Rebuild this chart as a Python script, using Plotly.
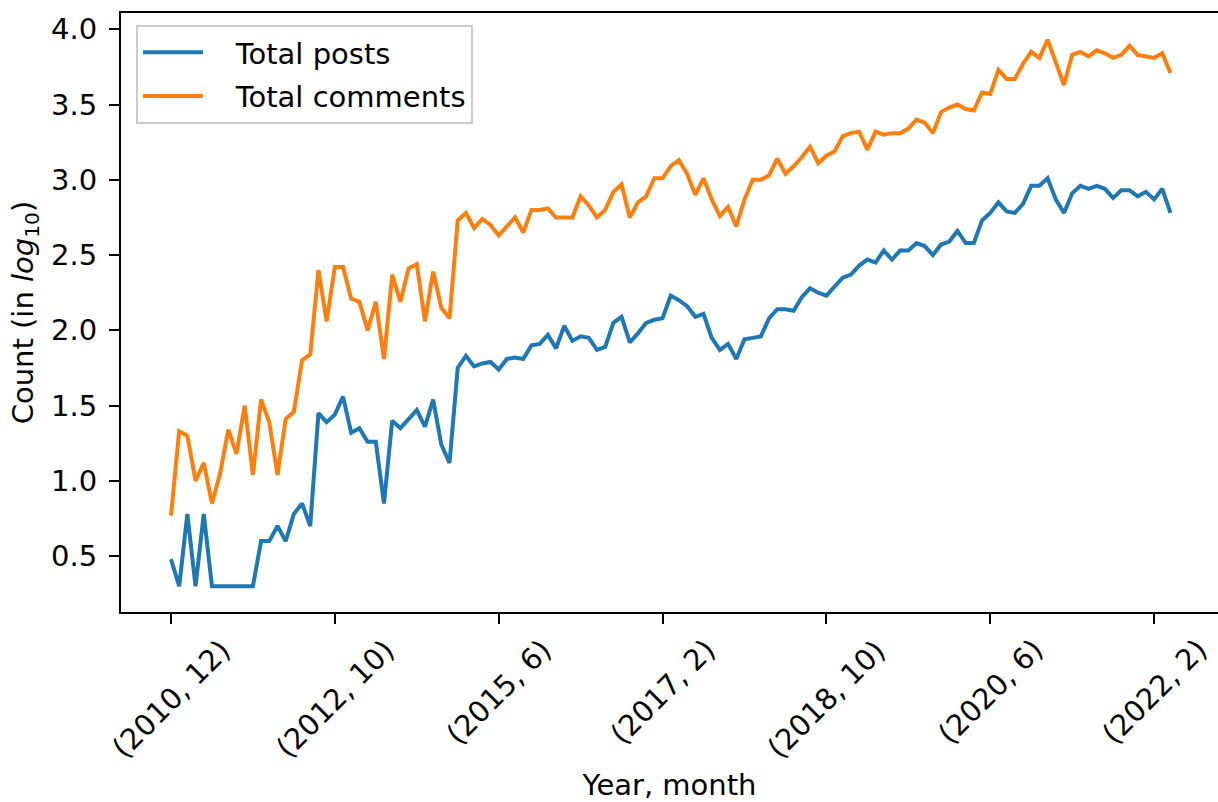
import plotly.graph_objects as go

# ---- data -------------------------------------------------------------
FIRST_YEAR, FIRST_MONTH = 2010, 12
LAST_YEAR, LAST_MONTH = 2022, 4
MISSING_MONTHS = [(2011, 5), (2011, 10),
                  (2013, 9), (2013, 10), (2013, 11), (2013, 12),
                  (2014, 1), (2014, 2), (2014, 3), (2014, 4),
                  (2014, 5), (2014, 6), (2014, 7), (2014, 8)]

months = []
y, m = FIRST_YEAR, FIRST_MONTH
while (y, m) <= (LAST_YEAR, LAST_MONTH):
    if (y, m) not in MISSING_MONTHS:
        months.append(f"({y}, {m})")
    m += 1
    if m > 12:
        y, m = y + 1, 1

total_posts = [
    0.48, 0.30, 0.78, 0.30, 0.78, 0.30, 0.30, 0.30, 0.30, 0.30,
    0.30, 0.60, 0.60, 0.70, 0.60, 0.78, 0.85, 0.70, 1.45, 1.39,
    1.44, 1.56, 1.32, 1.35, 1.26, 1.26, 0.85, 1.40, 1.35, 1.41,
    1.47, 1.36, 1.54, 1.24, 1.12, 1.75, 1.83, 1.76, 1.78, 1.79,
    1.74, 1.81, 1.82, 1.81, 1.90, 1.91, 1.97, 1.88, 2.03, 1.93,
    1.96, 1.95, 1.87, 1.89, 2.05, 2.09, 1.92, 1.98, 2.05, 2.07,
    2.08, 2.23, 2.20, 2.16, 2.09, 2.11, 1.95, 1.87, 1.91, 1.81,
    1.94, 1.95, 1.96, 2.08, 2.14, 2.14, 2.13, 2.22, 2.28, 2.25,
    2.23, 2.29, 2.35, 2.37, 2.43, 2.47, 2.45, 2.53, 2.47, 2.53,
    2.53, 2.58, 2.56, 2.50, 2.57, 2.59, 2.66, 2.58, 2.58, 2.73,
    2.78, 2.85, 2.79, 2.78, 2.84, 2.96, 2.96, 3.01, 2.87, 2.78,
    2.91, 2.96, 2.94, 2.96, 2.94, 2.88, 2.93, 2.93, 2.89, 2.92,
    2.87, 2.94, 2.78,
]

total_comments = [
    0.77, 1.33, 1.30, 1.00, 1.12, 0.85, 1.05, 1.34, 1.18, 1.50,
    1.04, 1.54, 1.39, 1.04, 1.41, 1.46, 1.80, 1.84, 2.40, 2.06,
    2.42, 2.42, 2.21, 2.19, 2.00, 2.19, 1.81, 2.37, 2.19, 2.41,
    2.44, 2.06, 2.39, 2.15, 2.08, 2.73, 2.78, 2.68, 2.74, 2.70,
    2.63, 2.69, 2.75, 2.65, 2.80, 2.80, 2.81, 2.75, 2.75, 2.75,
    2.89, 2.83, 2.75, 2.80, 2.92, 2.97, 2.75, 2.85, 2.89, 3.01,
    3.01, 3.09, 3.13, 3.04, 2.90, 3.01, 2.87, 2.76, 2.82, 2.69,
    2.87, 3.00, 3.00, 3.03, 3.14, 3.04, 3.09, 3.15, 3.22, 3.11,
    3.16, 3.19, 3.29, 3.31, 3.32, 3.20, 3.32, 3.30, 3.31, 3.31,
    3.34, 3.40, 3.38, 3.31, 3.45, 3.48, 3.50, 3.47, 3.46, 3.58,
    3.57, 3.73, 3.67, 3.67, 3.77, 3.85, 3.81, 3.93, 3.78, 3.63,
    3.83, 3.85, 3.82, 3.86, 3.84, 3.81, 3.83, 3.89, 3.83, 3.82,
    3.81, 3.84, 3.71,
]

series_names = ["Total posts", "Total comments"]
x_tick_labels = ["(2010, 12)", "(2012, 10)", "(2015, 6)", "(2017, 2)",
                 "(2018, 10)", "(2020, 6)", "(2022, 2)"]
y_tick_values = [0.5, 1.0, 1.5, 2.0, 2.5, 3.0, 3.5, 4.0]

# ---- figure -----------------------------------------------------------
FONT = "DejaVu Sans"
FS = 29
PAD = "\u00a0\u00a0\u00a0"

fig = go.Figure()
fig.add_trace(go.Scatter(x=months, y=total_posts, mode="lines",
                         name=PAD + series_names[0], legendgroup="a",
                         line=dict(color="#1f77b4", width=4)))
fig.add_trace(go.Scatter(x=months, y=total_comments, mode="lines",
                         name=PAD + series_names[1], legendgroup="b",
                         line=dict(color="#ff7f0e", width=4)))

for lab in x_tick_labels:
    fig.add_annotation(x=lab, y=0, xref="x", yref="paper",
                       text=lab, textangle=-45, showarrow=False,
                       xanchor="center", yanchor="top", yshift=-18,
                       font=dict(family=FONT, size=FS, color="black"))

fig.update_layout(
    width=1218, height=802,
    margin=dict(l=121, r=0, t=13, b=190),
    paper_bgcolor="white", plot_bgcolor="white",
    font=dict(family=FONT, size=FS, color="black"),
    showlegend=True,
    legend=dict(x=0.0137, y=0.98, xanchor="left", yanchor="top",
                bgcolor="white", bordercolor="#cccccc", borderwidth=2,
                font=dict(family=FONT, size=FS), itemwidth=60,
                tracegroupgap=3),
)
fig.update_xaxes(
    type="category", range=[-6.1, 127.8],
    tickmode="array", tickvals=x_tick_labels, showticklabels=False,
    ticks="outside", ticklen=10, tickwidth=2, tickcolor="black",
    showline=True, linecolor="black", linewidth=2, mirror=True,
    showgrid=False, zeroline=False,
    title=dict(text="Year, month", standoff=156,
               font=dict(family=FONT, size=FS)),
    automargin=False,
)
fig.update_yaxes(
    range=[0.129, 4.108],
    tickmode="array", tickvals=y_tick_values,
    ticktext=[f"{v:.1f}" for v in y_tick_values],
    ticks="outside", ticklen=10, tickwidth=2, tickcolor="black",
    ticklabelstandoff=6,
    showline=True, linecolor="black", linewidth=2, mirror=False,
    showgrid=False, zeroline=False,
    title=dict(text="Count (in <i>log</i><sub>10</sub>)", standoff=9,
               font=dict(family=FONT, size=FS)),
    automargin=False,
)

fig.write_html("out.html")
